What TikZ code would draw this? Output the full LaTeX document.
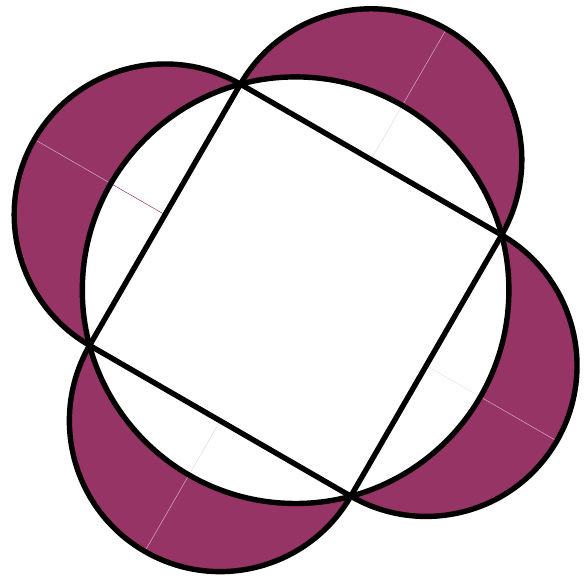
\documentclass[tikz,border=0pt]{standalone}
\usepackage{tikz}
\usetikzlibrary{calc}
\definecolor{lunepurple}{RGB}{151,52,102}

\begin{document}
\begin{tikzpicture}[x=1pt,y=1pt]
\useasboundingbox (0,0) rectangle (584,579);
\def\rad{213.3}
\def\hs{150.8}
\coordinate (O) at (295.6,288.8);
\foreach \ang/\nm in {15/b,105/a,195/d,285/c}
  \coordinate (\nm) at ($(O)+(\ang:\rad)$);
% lunes: semicircles on the sides, then the big circle in white
\foreach \ang in {60,150,240,330}
  \fill[lunepurple] ($(O)+(\ang:\hs)$) ++(\ang-90:\hs) arc[start angle=\ang-90,end angle=\ang+90,radius=\hs] -- cycle;
\fill[white] (O) circle[radius=\rad];
% faint seams
\foreach \ang/\col in {60/lunepurple!20,150/lunepurple,240/lunepurple!20,330/lunepurple!15} {
  \draw[\col,line width=0.5pt] ($(O)+(\ang:\hs)$) -- ($(O)+(\ang:\rad)$);
  \draw[white!60!lunepurple,line width=0.5pt] ($(O)+(\ang:\rad)$) -- ($(O)+(\ang:2*\hs)$);
}
% outlines
\begin{scope}[line width=5.4pt,line join=round]
\foreach \ang in {60,150,240,330}
  \draw ($(O)+(\ang:\hs)$) ++(\ang-90:\hs) arc[start angle=\ang-90,end angle=\ang+90,radius=\hs];
\draw (O) circle[radius=\rad];
\draw (a) -- (b) -- (c) -- (d) -- cycle;
\end{scope}
\end{tikzpicture}
\end{document}
